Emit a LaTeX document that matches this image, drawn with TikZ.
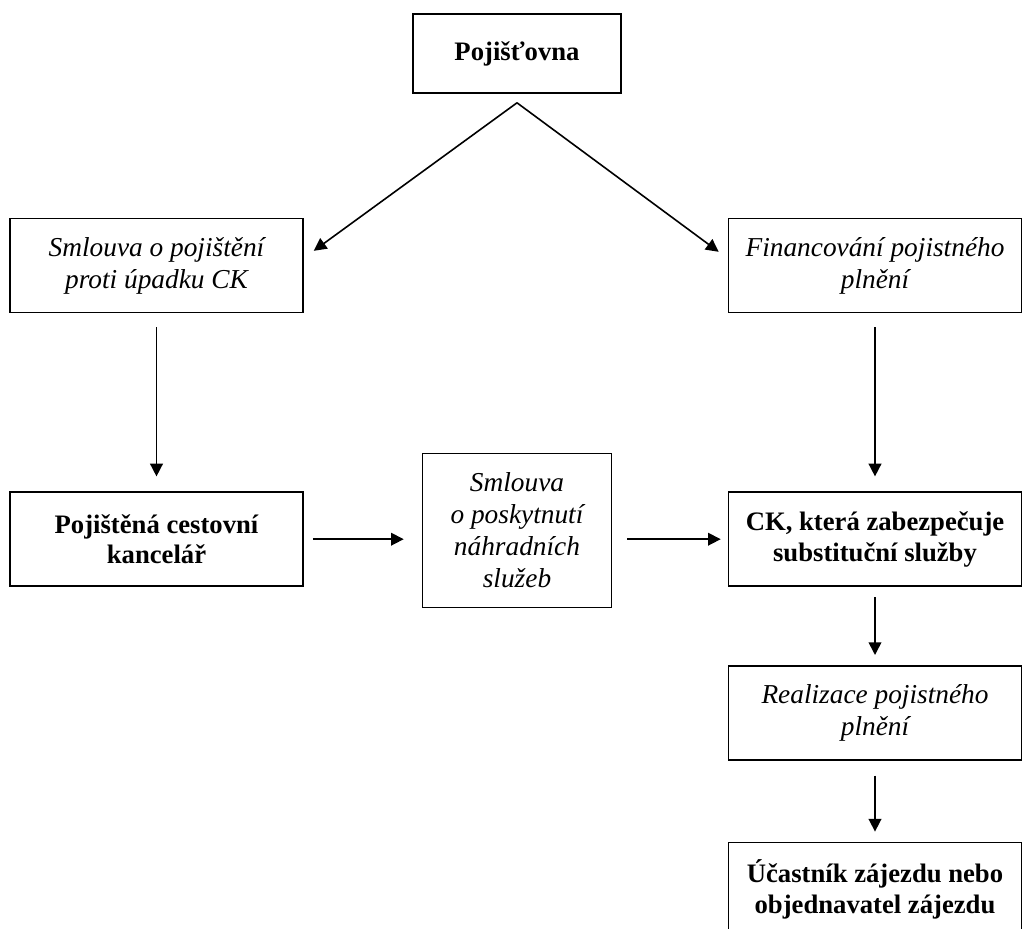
\documentclass[tikz,border=0pt]{standalone}
\usepackage{fontspec}
\setmainfont{Liberation Serif}
\usepackage{tikz}
\usetikzlibrary{positioning, arrows.meta}

\begin{document}
\begin{tikzpicture}[
    >={Triangle[length=9.5pt, width=9.5pt]},
    box/.style={rectangle, draw=black, very thick, align=center, minimum width=219.75pt, minimum height=70.5pt, inner sep=4pt},
    party/.style={font=\fontsize{20pt}{23pt}\selectfont\bfseries},
    contract/.style={font=\fontsize{20.5pt}{24pt}\selectfont\itshape}
]
\useasboundingbox (0,0) rectangle (766.5pt,-696.75pt);

% insurer on top
\node[box, party, minimum width=156pt, minimum height=59.25pt] (insurer) at (387.75pt,-40.125pt) {Pojišťovna};

% contracts of the insurer
\node[box, contract, below=93pt of insurer, xshift=-270.375pt] (policy) {Smlouva o pojištění\\ proti úpadku CK};
\node[box, contract, below=93pt of insurer, xshift=268.5pt] (funding) {Financování pojistného\\ plnění};

% middle row
\node[box, party, below=133.5pt of policy] (agency) {Pojištěná cestovní\\ kancelář};
\node[box, contract, below=269.25pt of insurer, minimum width=141.75pt, minimum height=115.5pt] (subst) {Smlouva\\ o poskytnutí\\ náhradních\\ služeb};
\node[box, party, below=133.5pt of funding] (provider) {CK, která zabezpečuje\\ substituční služby};

% right column down
\node[box, contract, below=58.5pt of provider] (payout) {Realizace pojistného\\ plnění};
\node[box, party, below=60.75pt of payout] (customer) {Účastník zájezdu nebo\\ objednavatel zájezdu};

% Arrows
\coordinate[below=6.75pt of insurer] (apex);
\draw[->, very thick] (apex) -- ([xshift=7.5pt, yshift=-24.75pt]policy.north east);
\draw[->, very thick] (apex) -- ([xshift=-6.75pt, yshift=-25.5pt]funding.north west);
\draw[->, very thick, shorten <=10.5pt, shorten >=11.25pt] (policy) -- (agency);
\draw[->, very thick, shorten <=10.5pt, shorten >=11.25pt] (funding) -- (provider);
\draw[->, very thick, shorten <=6.75pt, shorten >=13.5pt] (agency.east) -- (agency.east -| subst.west);
\draw[->, very thick, shorten <=11.25pt, shorten >=5.25pt] (provider.west -| subst.east) -- (provider.west);
\draw[->, very thick, shorten <=7.5pt, shorten >=7.5pt] (provider) -- (payout);
\draw[->, very thick, shorten <=11.25pt, shorten >=7.5pt] (payout) -- (customer);
\end{tikzpicture}
\end{document}
